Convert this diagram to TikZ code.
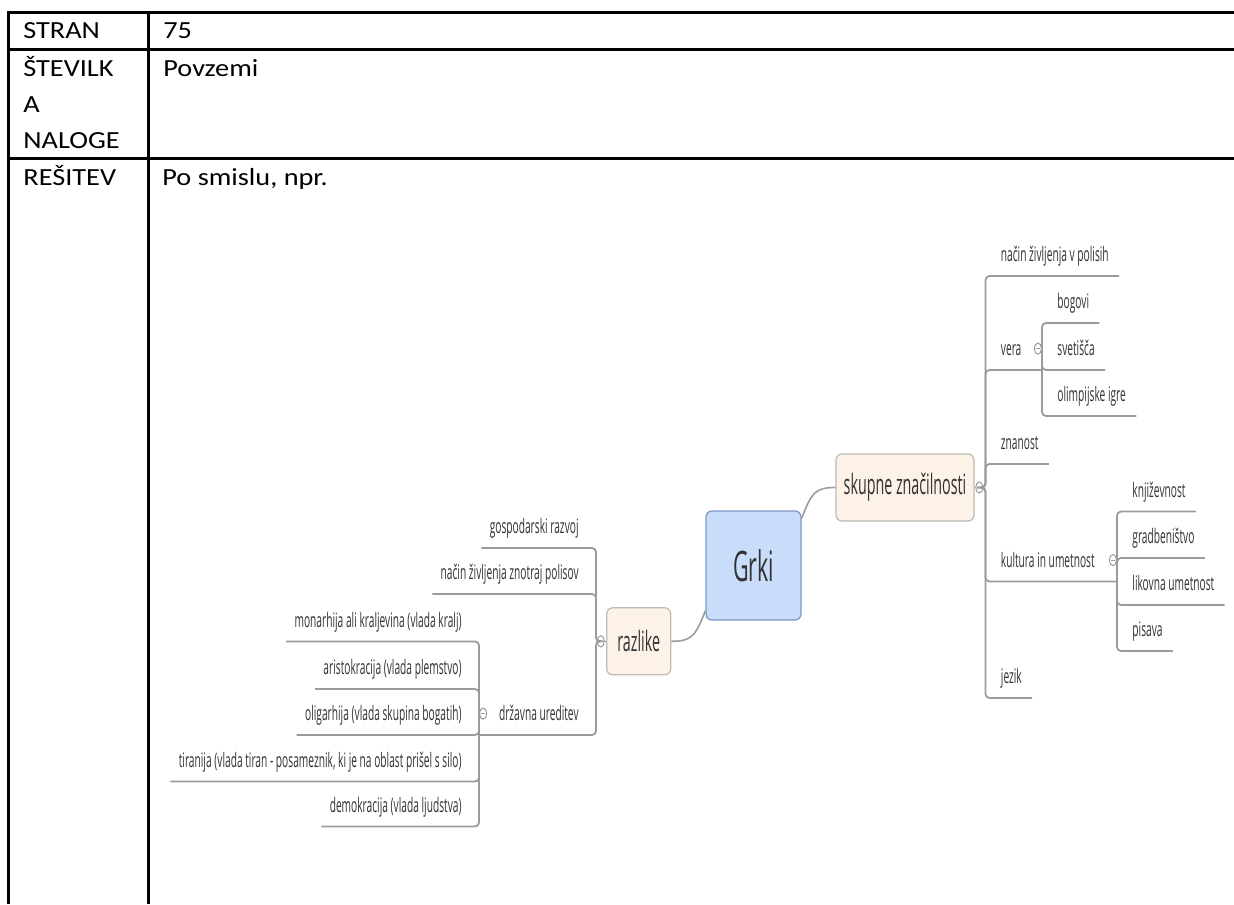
\documentclass[tikz,border=0pt]{standalone}
\usepackage{fontspec}
\newfontfamily\tabfont[FakeStretch=1.15]{Carlito}
\newfontfamily\mapfont[FakeStretch=0.51]{Open Sans}
\usetikzlibrary{positioning,shapes.geometric}
\definecolor{maptext}{RGB}{50,50,50}
\definecolor{branchgray}{RGB}{155,155,155}
\definecolor{rootfill}{RGB}{201,220,250}
\definecolor{rootdraw}{RGB}{125,150,200}
\definecolor{subfill}{RGB}{253,242,231}
\definecolor{subdraw}{RGB}{190,186,180}
\tikzset{
  cell/.style={anchor=base west, inner sep=0pt, font=\tabfont\fontsize{12.3}{18}\selectfont},
  rule/.style={line width=1.5pt, black},
  branch/.style={draw=branchgray, line width=0.9pt, rounded corners=2pt},
  link/.style={draw=branchgray, line width=0.8pt},
  leafR/.style={anchor=south west, inner xsep=5pt, inner ysep=7pt, text depth=0pt, text height=7pt, text=maptext, font=\mapfont\fontsize{10}{12}\selectfont},
  leafL/.style={leafR, anchor=south east, inner xsep=4pt},
  topic/.style={rounded corners=3pt, draw=subdraw, fill=subfill, line width=0.6pt, inner sep=0pt, minimum height=33.5pt, text=maptext, font=\mapfont\fontsize{14}{16}\selectfont},
  rootnode/.style={topic, draw=rootdraw, fill=rootfill, font=\mapfont\fontsize{21}{24}\selectfont},
  fold/.style={ellipse, draw=branchgray, fill=white, line width=0.5pt, minimum width=3.6pt, minimum height=5.6pt, inner sep=0pt, path picture={\draw[branchgray, line width=0.4pt] ([xshift=-1pt]path picture bounding box.center) -- ([xshift=1pt]path picture bounding box.center);}}
}
\begin{document}
\begin{tikzpicture}[x=0.5pt, y=-0.5pt]
\useasboundingbox (0,0) rectangle (1234,904);
\draw[rule] (7.2,12.5) -- (1234,12.5);
\draw[rule] (7.2,49.5) -- (1234,49.5);
\draw[rule] (7.2,158) -- (1234,158);
\draw[rule] (8.7,11) -- (8.7,904);
\draw[rule] (148,11) -- (148,904);
\node[cell] (stran) at (23,39) {STRAN};
\node[cell] (stranval) at (163,39) {75};
\node[cell] (naloga1) at (23,76) {ŠTEVILK};
\node[cell] (naloga2) at (23,112.5) {A};
\node[cell] (naloga3) at (23,148.5) {NALOGE};
\node[cell] (nalogaval) at (163,76) {Povzemi};
\node[cell] (resitev) at (23,185) {REŠITEV};
\node[cell] (resitevval) at (162,185) {Po smislu, npr.};
\coordinate (rbrk) at (985.5,0);
\coordinate (vbrk) at (1042,0);
\coordinate (kbrk) at (1117,0);
\coordinate (lbrk) at (596,0);
\coordinate (dbrk) at (479,0);
\node[rootnode, minimum width=47.5pt, minimum height=54.5pt] (grki) at (753.5,565.5) {Grki};
\node[topic, minimum width=69pt] (skupne) at (905,487.5) {skupne značilnosti};
\node[topic, minimum width=32pt] (razlike) at (638.7,641.3) {razlike};
\node[fold, right=0.3pt of skupne] (sfold) {};
\node[fold, left=0.6pt of razlike] (rfold) {};
\node[leafR] (polisi) at (990.5,276) {način življenja v polisih};
\node[leafR] (vera) at (990.5,370) {vera};
\node[leafR] (znanost) at (990.5,464) {znanost};
\node[leafR] (kultura) at (990.5,581.5) {kultura in umetnost};
\node[leafR] (jezik) at (990.5,698) {jezik};
\node[leafR] (bogovi) at (1047,323) {bogovi};
\node[leafR] (svetisca) at (1047,370) {svetišča};
\node[leafR] (igre) at (1047,416) {olimpijske igre};
\node[leafR] (knjizevnost) at (1122,511.5) {književnost};
\node[leafR] (gradbenistvo) at (1122,558) {gradbeništvo};
\node[leafR] (likovna) at (1122,605) {likovna umetnost};
\node[leafR] (pisava) at (1122,651) {pisava};
\node[leafL] (gospodarstvo) at (587,548) {gospodarski razvoj};
\node[leafL] (polisov) at (587,594) {način življenja znotraj polisov};
\node[leafL] (ureditev) at (587,735) {državna ureditev};
\node[leafL] (monarhija) at (470,641.5) {monarhija ali kraljevina (vlada kralj)};
\node[leafL] (aristokracija) at (470,689) {aristokracija (vlada plemstvo)};
\node[leafL] (oligarhija) at (470,735) {oligarhija (vlada skupina bogatih)};
\node[leafL] (tiranija) at (470,781.5) {tiranija (vlada tiran - posameznik, ki je na oblast prišel s silo)};
\node[leafL] (demokracija) at (470,826.5) {demokracija (vlada ljudstva)};
\path (vera.center -| vbrk) node[fold, anchor=east] (vfold) {};
\path (kultura.center -| kbrk) node[fold, anchor=east] (kfold) {};
\path (ureditev.center -| dbrk) node[fold, anchor=west] (dfold) {};
\draw[link] ([yshift=-4pt]grki.north east) .. controls +(10,-26) and +(-20,0) .. (skupne.west);
\draw[link] ([yshift=5pt]grki.south west) .. controls +(-10,26) and +(20,0) .. (razlike.east);
\draw[link] (skupne.east) -- (sfold.west);
\draw[link] (razlike.west) -- (rfold.east);
\foreach \n in {polisi,znanost,jezik}
  \draw[branch] (sfold.east) -- (sfold.east -| rbrk) -- (rbrk |- \n.south) -- (\n.south east);
\draw[branch] (sfold.east) -- (sfold.east -| rbrk) -- (rbrk |- vera.south) -- (vbrk |- vera.south);
\draw[branch] (sfold.east) -- (sfold.east -| rbrk) -- (rbrk |- kultura.south) -- (kbrk |- kultura.south);
\foreach \n in {bogovi,svetisca,igre}
  \draw[branch] (vfold.east) -- (vbrk |- \n.south) -- (\n.south east);
\foreach \n in {knjizevnost,gradbenistvo,likovna,pisava}
  \draw[branch] (kfold.east) -- (kbrk |- \n.south) -- (\n.south east);
\foreach \n in {gospodarstvo,polisov}
  \draw[branch] (rfold.west) -- (rfold.west -| lbrk) -- (lbrk |- \n.south) -- (\n.south west);
\draw[branch] (rfold.west) -- (rfold.west -| lbrk) -- (lbrk |- ureditev.south) -- (dbrk |- ureditev.south);
\foreach \n in {monarhija,aristokracija,oligarhija,tiranija,demokracija}
  \draw[branch] (dfold.west) -- (dbrk |- \n.south) -- (\n.south west);
\end{tikzpicture}
\end{document}
